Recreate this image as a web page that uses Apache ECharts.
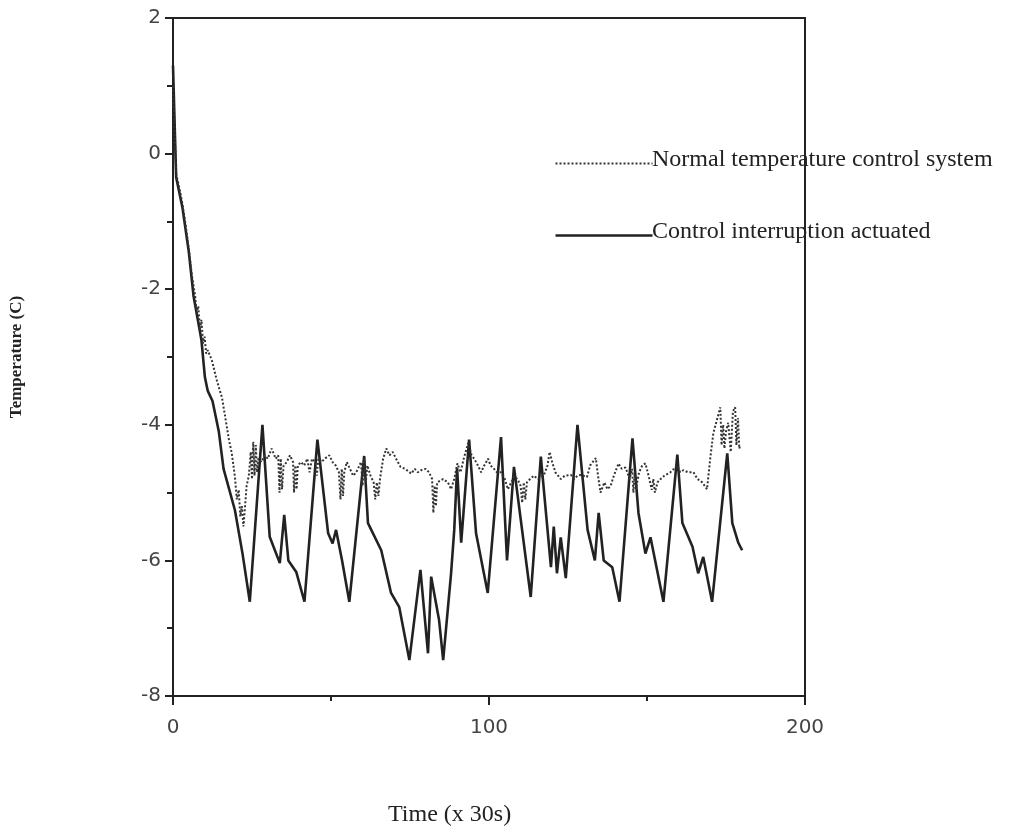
<!DOCTYPE html>
<html>
<head>
<meta charset="utf-8">
<script src="https://cdn.jsdelivr.net/npm/echarts@6/dist/echarts.min.js"></script>
<style>html,body{margin:0;padding:0;background:#fff;}#c{width:1020px;height:833px;}</style>
</head>
<body>
<div id="c"></div>
<script>
// Tick values
const xTicks = [0, 100, 200];
const yTicks = [-8, -6, -4, -2, 0, 2];

// Series names
const seriesNames = ['Normal temperature control system', 'Control interruption actuated'];

// Control interruption actuated (solid)
const timeSolid = [0,1,3,5,6.5,9,10.1,11,12.5,14.5,16,19.6,22,24.3,28.3,30.6,33.8,35.2,36.5,39,41.6,45.7,49.1,50.5,51.6,53.5,55.8,60.5,61.7,65.9,69,71.6,74.8,78.3,80.7,81.7,84.2,85.5,88,89,89.9,91.2,93.7,95.9,99.6,103.8,105.7,107.9,113.2,116.4,119.6,120.5,121.5,122.7,124.3,128,131.2,133.5,134.7,136.3,139,141.3,145.4,147.3,149.5,151.1,155.2,159.6,161.2,164.4,166.2,167.8,170.6,175.4,177,178.9,180.1];
const tempSolid = [1.3,-0.35,-0.8,-1.45,-2.1,-2.75,-3.3,-3.5,-3.65,-4.1,-4.65,-5.26,-5.9,-6.61,-4.0,-5.65,-6.04,-5.33,-6.0,-6.17,-6.61,-4.22,-5.6,-5.75,-5.55,-6.0,-6.61,-4.46,-5.45,-5.85,-6.48,-6.69,-7.47,-6.14,-7.37,-6.24,-6.88,-7.47,-6.19,-5.55,-4.64,-5.74,-4.22,-5.6,-6.48,-4.18,-6.0,-4.62,-6.54,-4.47,-6.1,-5.5,-6.19,-5.66,-6.26,-4.0,-5.55,-6.0,-5.3,-6.0,-6.1,-6.61,-4.2,-5.3,-5.9,-5.66,-6.61,-4.44,-5.45,-5.8,-6.19,-5.95,-6.61,-4.42,-5.45,-5.74,-5.85];

// Normal temperature control system (dotted)
const timeNormal = [0,1,2,3,4,5,6,7,7.5,8,8.5,9,9.5,10,10.5,11,12.3,13.9,15.5,16.4,17.7,18.6,19.6,20.2,20.8,21.3,21.8,22.3,22.8,23.3,24,24.6,25,25.4,25.8,26.2,26.6,27,28,29,30,31.2,32.5,33.3,33.7,34.1,34.5,35,36,37,38,38.3,38.7,39.1,39.5,40.5,41.5,42.5,43.2,44,45,45.5,46,47,48,49.5,50.5,51.5,52.5,53,53.4,53.8,54.2,55,56,57,58,59.5,60,60.5,61,61.5,62.5,63.5,64,64.5,65,65.5,66.5,67.5,68.5,69.5,70.6,72,73.5,75.4,76.5,77.5,78.5,80,81,82,82.4,82.8,83.2,83.6,85.5,87,88,89,90,91,92,93.4,94.5,95.3,96.5,97.5,98.5,99.7,100.5,101.6,102.5,103.8,105,106,107,108,109,110,110.5,111,111.5,112,113,114.2,115.5,117.4,118.5,119.2,120,121,122.7,124,125.9,127,128,129,131,132,133.8,134.5,135.3,136.5,137.5,138.5,139.5,141,142,143.2,144.5,145.3,145.7,146.1,146.5,147.5,148.5,149.5,150.5,151.5,152,152.5,153.3,154.3,155.5,157.4,158.5,159.5,160.5,161.5,163,164.7,166,167.5,169,170,171,172,173.2,173.6,174.1,174.5,175,175.7,176.5,177.2,177.9,178.3,178.8,179.2,179.5];
const tempNormal = [1.0,-0.3,-0.5,-0.75,-1.05,-1.4,-1.8,-2.1,-2.35,-2.25,-2.6,-2.45,-2.8,-2.7,-2.95,-2.9,-3.05,-3.35,-3.6,-3.85,-4.22,-4.42,-4.77,-5.1,-4.96,-5.35,-5.2,-5.5,-5.2,-4.9,-4.75,-4.4,-4.8,-4.25,-4.75,-4.3,-4.7,-4.5,-4.55,-4.45,-4.5,-4.35,-4.5,-4.45,-5.0,-4.5,-4.95,-4.6,-4.55,-4.45,-4.55,-5.0,-4.6,-4.95,-4.6,-4.55,-4.6,-4.5,-4.7,-4.5,-4.55,-4.75,-4.5,-4.55,-4.5,-4.45,-4.55,-4.6,-4.7,-5.1,-4.65,-5.05,-4.7,-4.55,-4.65,-4.75,-4.7,-4.55,-4.9,-4.5,-4.85,-4.6,-4.75,-4.85,-5.1,-4.85,-5.05,-4.8,-4.5,-4.35,-4.45,-4.4,-4.5,-4.62,-4.65,-4.72,-4.65,-4.7,-4.67,-4.65,-4.7,-4.8,-5.3,-4.9,-5.2,-4.85,-4.8,-4.85,-4.95,-4.8,-4.57,-4.7,-4.5,-4.27,-4.45,-4.5,-4.6,-4.7,-4.6,-4.5,-4.6,-4.65,-4.7,-4.7,-4.8,-4.95,-4.85,-4.76,-4.8,-4.9,-5.15,-4.85,-5.1,-4.85,-4.8,-4.75,-4.8,-4.74,-4.6,-4.4,-4.55,-4.7,-4.8,-4.75,-4.74,-4.8,-4.75,-4.74,-4.77,-4.6,-4.49,-4.75,-5.0,-4.85,-4.95,-4.9,-4.75,-4.57,-4.65,-4.63,-4.8,-4.65,-5.0,-4.7,-4.95,-4.7,-4.6,-4.57,-4.75,-4.96,-4.8,-5.0,-4.85,-4.8,-4.75,-4.7,-4.65,-4.6,-4.7,-4.67,-4.7,-4.7,-4.8,-4.85,-4.95,-4.5,-4.12,-3.95,-3.74,-4.3,-4.0,-4.35,-4.1,-3.97,-4.4,-3.8,-3.74,-4.3,-3.9,-4.35,-4.3];

const zip = (xs, ys) => xs.map((x, i) => [x, ys[i]]);

const chart = echarts.init(document.getElementById('c'), null, {renderer: 'canvas'});
const serif = '"Liberation Serif", "DejaVu Serif", serif';
const sans = '"DejaVu Sans", sans-serif';
chart.setOption({
  backgroundColor: '#ffffff',
  animation: false,
  grid: {left: 171, right: 215, top: 18, bottom: 137, show: true, borderColor: '#222', borderWidth: 2, backgroundColor: 'transparent'},
  graphic: [
    {type: 'line', left: 553, top: 161, shape: {x1: 0, y1: 0, x2: 97, y2: 0}, style: {stroke: '#333', lineWidth: 2, lineDash: [2, 2]}},
    {type: 'text', left: 652, top: 148, style: {text: seriesNames[0], font: '24px ' + serif, fill: '#222'}},
    {type: 'line', left: 553, top: 233, shape: {x1: 0, y1: 0, x2: 97, y2: 0}, style: {stroke: '#222', lineWidth: 2.6}},
    {type: 'text', left: 652, top: 220, style: {text: seriesNames[1], font: '24px ' + serif, fill: '#222'}},
    {type: 'text', left: 388, top: 803, style: {text: 'Time (x 30s)', font: '24px ' + serif, fill: '#222'}}
  ],
  xAxis: {
    type: 'value', min: xTicks[0], max: xTicks[xTicks.length-1], interval: 100,
    axisLine: {onZero: false, lineStyle: {color: '#222', width: 2}},
    axisTick: {length: 9, lineStyle: {color: '#222', width: 2}},
    minorTick: {show: true, splitNumber: 2, length: 5, lineStyle: {color: '#222', width: 2}},
    splitLine: {show: false},
    axisLabel: {fontFamily: sans, fontSize: 20, color: '#444', margin: 22}
  },
  yAxis: {
    type: 'value', min: yTicks[0], max: yTicks[yTicks.length-1], interval: 2,
    name: 'Temperature (C)', nameLocation: 'middle', nameGap: 148, nameRotate: 90,
    nameTextStyle: {fontFamily: serif, fontSize: 17, fontWeight: 'bold', color: '#222'},
    axisLine: {show: true, onZero: false, lineStyle: {color: '#222', width: 2}},
    axisTick: {show: true, length: 8, lineStyle: {color: '#222', width: 2}},
    minorTick: {show: true, splitNumber: 2, length: 6, lineStyle: {color: '#222', width: 2}},
    splitLine: {show: false},
    axisLabel: {fontFamily: sans, fontSize: 20, color: '#444', margin: 12}
  },
  series: [
    {
      name: seriesNames[0], type: 'line', symbol: 'none', data: zip(timeNormal, tempNormal),
      lineStyle: {color: '#333', width: 2, type: [2, 2]}, itemStyle: {color: '#333'}, z: 3
    },
    {
      name: seriesNames[1], type: 'line', symbol: 'none', data: zip(timeSolid, tempSolid),
      lineStyle: {color: '#222', width: 2.6, type: 'solid'}, itemStyle: {color: '#222'}, z: 2
    }
  ]
});
</script>
</body>
</html>
